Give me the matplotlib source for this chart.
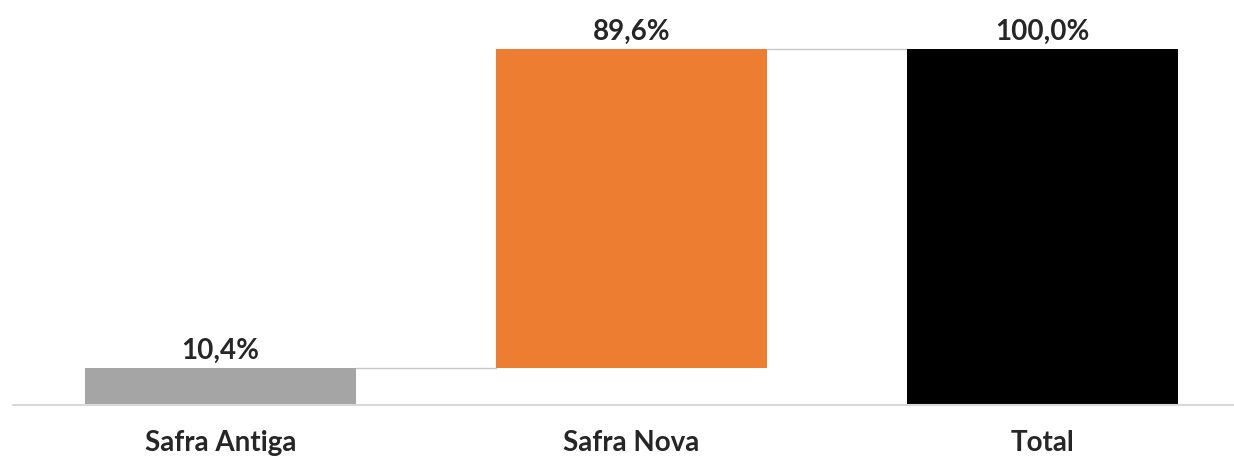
import numpy as np
import matplotlib
matplotlib.use('Agg')
import matplotlib.pyplot as plt

categories = ['Safra Antiga', 'Safra Nova', 'Total']
steps = [10.4, 89.6]
total = 100.0
labels = ['10,4%', '89,6%', '100,0%']
colors = ['#A5A5A5', '#ED7D31', '#000000']

# waterfall: bottoms from running sum, last bar is the total
heights = steps + [total]
bottoms = list(np.concatenate([[0], np.cumsum(steps)[:-1]])) + [0]
tops = [b + h for b, h in zip(bottoms, heights)]

plt.rcParams['font.family'] = ['Lato', 'DejaVu Sans']

fig = plt.figure(figsize=(12.34, 4.61), dpi=100)
W, H = 1234, 461
# axes in pixel space: left 13, right 1234, baseline y=405 from top
ax = fig.add_axes([13 / W, (H - 405) / H, (1234 - 13) / W, 405 / H])

x = np.arange(len(categories))
width = 0.66
ax.bar(x, heights, bottom=bottoms, width=width, color=colors, zorder=2)

# connector lines
for i in range(len(x) - 1):
    ax.plot([x[i] + width / 2, x[i + 1] - width / 2], [tops[i], tops[i]],
            color='#C8C8C8', lw=1, zorder=1)

for xi, top, lab in zip(x, tops, labels):
    ax.annotate(lab, (xi, top), xytext=(0, 3), textcoords='offset points',
                ha='center', va='bottom', fontsize=20, fontweight='bold',
                color='#262626')

ax.set_xlim(-0.505, 2.466)
ax.set_ylim(0, 100 * 405 / 356)

for s in ['top', 'right', 'left']:
    ax.spines[s].set_visible(False)
ax.spines['bottom'].set_color('#D9D9D9')
ax.spines['bottom'].set_linewidth(1.5)
ax.set_yticks([])
ax.set_xticks(x)
ax.set_xticklabels(categories, fontsize=20, fontweight='bold', color='#262626')
ax.tick_params(axis='x', length=0, pad=18)

fig.savefig('out.png', dpi=100)
